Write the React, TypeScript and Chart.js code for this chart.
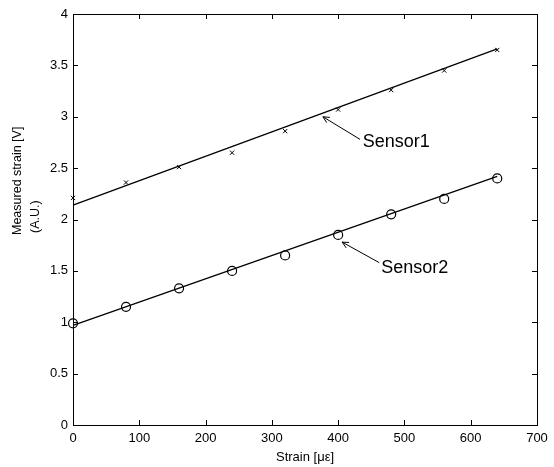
import React, { useEffect, useRef } from "react";
import { Chart, registerables } from "chart.js";

Chart.register(...registerables);

// ---- data ----
const strain = [0, 80, 160, 240, 320, 400, 480, 560, 640];
const sensor1 = [2.21, 2.36, 2.51, 2.65, 2.86, 3.07, 3.26, 3.45, 3.65];
const sensor2 = [0.99, 1.15, 1.33, 1.5, 1.65, 1.85, 2.05, 2.2, 2.4];

// fitted lines (end points)
const fitX = [0, 640];
const fit1 = [2.14, 3.66];
const fit2 = [0.97, 2.42];

// axis ranges / ticks
const xTicks = [0, 100, 200, 300, 400, 500, 600, 700];
const yTicks = [0, 0.5, 1, 1.5, 2, 2.5, 3, 3.5, 4];

// annotations: label, arrow tip (x,y), arrow tail (x,y), text anchor (x,y)
const annLabels = ["Sensor1", "Sensor2"];
const annTip = [
  [377, 3.0],
  [406, 1.78],
];
const annTail = [
  [433, 2.78],
  [462, 1.58],
];
const annText = [
  [437, 2.75],
  [465, 1.53],
];

const xTitle = "Strain [\u03bc\u03b5]";
const yTitleLines = ["Measured strain [V]", "(A.U.)"];

const FONT = "'Liberation Sans', Arial, Helvetica, sans-serif";

const framePlugin = {
  id: "frameAndNotes",
  afterDraw(chart: any) {
    const ctx = chart.ctx as CanvasRenderingContext2D;
    const { left, right, top, bottom } = chart.chartArea;
    const xs = chart.scales.x;
    const ys = chart.scales.y;
    ctx.save();
    ctx.strokeStyle = "#000";
    ctx.lineWidth = 1;
    // frame
    ctx.strokeRect(left + 0.5, top + 0.5, right - left, bottom - top);
    // inward ticks on all four sides
    const tl = 5;
    ctx.beginPath();
    xTicks.forEach((v) => {
      const px = Math.round(xs.getPixelForValue(v)) + 0.5;
      ctx.moveTo(px, bottom);
      ctx.lineTo(px, bottom - tl);
      ctx.moveTo(px, top);
      ctx.lineTo(px, top + tl);
    });
    yTicks.forEach((v) => {
      const py = Math.round(ys.getPixelForValue(v)) + 0.5;
      ctx.moveTo(left, py);
      ctx.lineTo(left + tl, py);
      ctx.moveTo(right, py);
      ctx.lineTo(right - tl, py);
    });
    ctx.stroke();

    // x title
    ctx.fillStyle = "#000";
    ctx.font = `13px ${FONT}`;
    ctx.textAlign = "center";
    ctx.textBaseline = "middle";
    ctx.fillText(xTitle, (left + right) / 2, 457);

    // y title (two lines, rotated, start aligned)
    ctx.save();
    ctx.translate(0, 235);
    ctx.rotate(-Math.PI / 2);
    ctx.textAlign = "left";
    ctx.font = `12.5px ${FONT}`;
    ctx.fillText(yTitleLines[0], 0, 18);
    ctx.fillText(yTitleLines[1], 2, 36);
    ctx.restore();

    // annotations
    ctx.font = `18px ${FONT}`;
    ctx.textAlign = "left";
    ctx.textBaseline = "middle";
    annLabels.forEach((lab, i) => {
      const tx = xs.getPixelForValue(annTip[i][0]);
      const ty = ys.getPixelForValue(annTip[i][1]);
      const sx = xs.getPixelForValue(annTail[i][0]);
      const sy = ys.getPixelForValue(annTail[i][1]);
      ctx.beginPath();
      ctx.moveTo(sx, sy);
      ctx.lineTo(tx, ty);
      ctx.stroke();
      const ang = Math.atan2(ty - sy, tx - sx);
      const hl = 7;
      ctx.beginPath();
      ctx.moveTo(tx - hl * Math.cos(ang - 0.45), ty - hl * Math.sin(ang - 0.45));
      ctx.lineTo(tx, ty);
      ctx.lineTo(tx - hl * Math.cos(ang + 0.45), ty - hl * Math.sin(ang + 0.45));
      ctx.stroke();
      ctx.fillText(
        lab,
        xs.getPixelForValue(annText[i][0]),
        ys.getPixelForValue(annText[i][1])
      );
    });
    ctx.restore();
  },
};

export default function App() {
  const ref = useRef<HTMLCanvasElement | null>(null);
  useEffect(() => {
    if (!ref.current) return;
    const chart = new Chart(ref.current, {
      type: "scatter",
      data: {
        datasets: [
          {
            label: "fit1",
            data: fitX.map((x, i) => ({ x, y: fit1[i] })),
            showLine: true,
            borderColor: "#000",
            borderWidth: 1.3,
            pointRadius: 0,
            clip: false as any,
          },
          {
            label: "fit2",
            data: fitX.map((x, i) => ({ x, y: fit2[i] })),
            showLine: true,
            borderColor: "#000",
            borderWidth: 1.3,
            pointRadius: 0,
            clip: false as any,
          },
          {
            label: "Sensor1",
            data: strain.map((x, i) => ({ x, y: sensor1[i] })),
            showLine: false,
            pointStyle: "crossRot",
            pointRadius: 3,
            borderColor: "#000",
            borderWidth: 1,
            clip: false as any,
          },
          {
            label: "Sensor2",
            data: strain.map((x, i) => ({ x, y: sensor2[i] })),
            showLine: false,
            pointStyle: "circle",
            pointRadius: 4.5,
            borderColor: "#000",
            backgroundColor: "rgba(0,0,0,0)",
            borderWidth: 1.2,
            clip: false as any,
          },
        ],
      },
      options: {
        responsive: false,
        animation: false,
        layout: { padding: { top: 14, right: 17, left: 0, bottom: 0 } },
        plugins: {
          legend: { display: false },
          tooltip: { enabled: false },
        },
        scales: {
          x: {
            type: "linear",
            min: xTicks[0],
            max: xTicks[xTicks.length - 1],
            afterBuildTicks: (s: any) => {
              s.ticks = xTicks.map((v) => ({ value: v }));
            },
            afterFit: (s: any) => {
              s.height = 42;
            },
            grid: { display: false, drawTicks: false },
            border: { display: false },
            ticks: {
              color: "#000",
              padding: 6,
              font: { family: FONT, size: 13 },
              callback: (v: any) => String(v),
              maxRotation: 0,
            },
          },
          y: {
            type: "linear",
            min: yTicks[0],
            max: yTicks[yTicks.length - 1],
            afterBuildTicks: (s: any) => {
              s.ticks = yTicks.map((v) => ({ value: v }));
            },
            afterFit: (s: any) => {
              s.width = 73;
            },
            grid: { display: false, drawTicks: false },
            border: { display: false },
            ticks: {
              color: "#000",
              padding: 5,
              font: { family: FONT, size: 13 },
              callback: (v: any) => String(v),
            },
          },
        },
      },
      plugins: [framePlugin],
    });
    return () => chart.destroy();
  }, []);
  return (
    <canvas
      ref={ref}
      width={554}
      height={467}
      style={{ position: "absolute", left: 0, top: 0, display: "block", background: "#fff" }}
    />
  );
}
